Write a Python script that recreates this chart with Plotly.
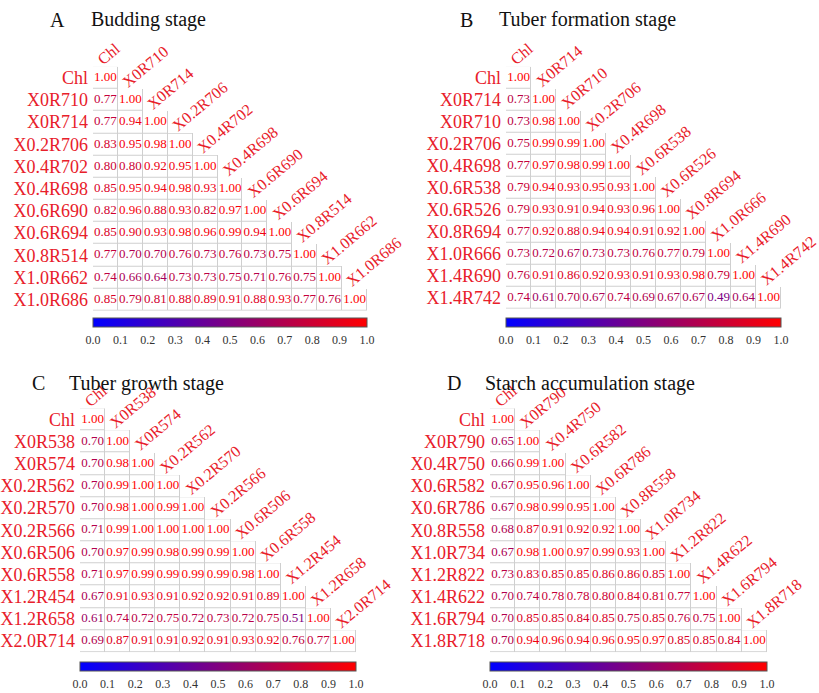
import plotly.graph_objects as go
from plotly.colors import sample_colorscale

# ---- Correlation data (lower triangle, row by row) ----
budding_vars = ["Chl", "X0R710", "X0R714", "X0.2R706", "X0.4R702", "X0.4R698",
                "X0.6R690", "X0.6R694", "X0.8R514", "X1.0R662", "X1.0R686"]
budding_r = [
    [1.00],
    [0.77, 1.00],
    [0.77, 0.94, 1.00],
    [0.83, 0.95, 0.98, 1.00],
    [0.80, 0.80, 0.92, 0.95, 1.00],
    [0.85, 0.95, 0.94, 0.98, 0.93, 1.00],
    [0.82, 0.96, 0.88, 0.93, 0.82, 0.97, 1.00],
    [0.85, 0.90, 0.93, 0.98, 0.96, 0.99, 0.94, 1.00],
    [0.77, 0.70, 0.70, 0.76, 0.73, 0.76, 0.73, 0.75, 1.00],
    [0.74, 0.66, 0.64, 0.73, 0.73, 0.75, 0.71, 0.76, 0.75, 1.00],
    [0.85, 0.79, 0.81, 0.88, 0.89, 0.91, 0.88, 0.93, 0.77, 0.76, 1.00],
]

formation_vars = ["Chl", "X0R714", "X0R710", "X0.2R706", "X0.4R698", "X0.6R538",
                  "X0.6R526", "X0.8R694", "X1.0R666", "X1.4R690", "X1.4R742"]
formation_r = [
    [1.00],
    [0.73, 1.00],
    [0.73, 0.98, 1.00],
    [0.75, 0.99, 0.99, 1.00],
    [0.77, 0.97, 0.98, 0.99, 1.00],
    [0.79, 0.94, 0.93, 0.95, 0.93, 1.00],
    [0.79, 0.93, 0.91, 0.94, 0.93, 0.96, 1.00],
    [0.77, 0.92, 0.88, 0.94, 0.94, 0.91, 0.92, 1.00],
    [0.73, 0.72, 0.67, 0.73, 0.73, 0.76, 0.77, 0.79, 1.00],
    [0.76, 0.91, 0.86, 0.92, 0.93, 0.91, 0.93, 0.98, 0.79, 1.00],
    [0.74, 0.61, 0.70, 0.67, 0.74, 0.69, 0.67, 0.67, 0.49, 0.64, 1.00],
]

growth_vars = ["Chl", "X0R538", "X0R574", "X0.2R562", "X0.2R570", "X0.2R566",
               "X0.6R506", "X0.6R558", "X1.2R454", "X1.2R658", "X2.0R714"]
growth_r = [
    [1.00],
    [0.70, 1.00],
    [0.70, 0.98, 1.00],
    [0.70, 0.99, 1.00, 1.00],
    [0.70, 0.98, 1.00, 0.99, 1.00],
    [0.71, 0.99, 1.00, 1.00, 1.00, 1.00],
    [0.70, 0.97, 0.99, 0.98, 0.99, 0.99, 1.00],
    [0.71, 0.97, 0.99, 0.99, 0.99, 0.99, 0.98, 1.00],
    [0.67, 0.91, 0.93, 0.91, 0.92, 0.92, 0.91, 0.89, 1.00],
    [0.61, 0.74, 0.72, 0.75, 0.72, 0.73, 0.72, 0.75, 0.51, 1.00],
    [0.69, 0.87, 0.91, 0.91, 0.92, 0.91, 0.93, 0.92, 0.76, 0.77, 1.00],
]

starch_vars = ["Chl", "X0R790", "X0.4R750", "X0.6R582", "X0.6R786", "X0.8R558",
               "X1.0R734", "X1.2R822", "X1.4R622", "X1.6R794", "X1.8R718"]
starch_r = [
    [1.00],
    [0.65, 1.00],
    [0.66, 0.99, 1.00],
    [0.67, 0.95, 0.96, 1.00],
    [0.67, 0.98, 0.99, 0.95, 1.00],
    [0.68, 0.87, 0.91, 0.92, 0.92, 1.00],
    [0.67, 0.98, 1.00, 0.97, 0.99, 0.93, 1.00],
    [0.73, 0.83, 0.85, 0.85, 0.86, 0.86, 0.85, 1.00],
    [0.70, 0.74, 0.78, 0.78, 0.80, 0.84, 0.81, 0.77, 1.00],
    [0.70, 0.85, 0.85, 0.84, 0.85, 0.75, 0.85, 0.76, 0.75, 1.00],
    [0.70, 0.94, 0.96, 0.94, 0.96, 0.95, 0.97, 0.85, 0.85, 0.84, 1.00],
]

panel_letters = ["A", "B", "C", "D"]
panel_titles = ["Budding stage", "Tuber formation stage",
                "Tuber growth stage", "Starch accumulation stage"]
panel_vars = [budding_vars, formation_vars, growth_vars, starch_vars]
panel_r = [budding_r, formation_r, growth_r, starch_r]

colorbar_ticks = [i / 10 for i in range(11)]

# ---- Styling / layout geometry (pixels) ----
W, H = 819, 693
SERIF = "Liberation Serif, Times New Roman, serif"
RED = "#e8202a"
GRID = "#cfcfcf"
COLORSCALE = [[0.0, "#0000ff"], [0.5, "#800080"], [1.0, "#ff0000"]]

# matrix box (x0, x1, y0, y1), colorbar top, heading row
geom = [
    dict(box=(93, 367, 67, 312), cbar_top=319, title_y=20, letter_x=48, title_x=89),
    dict(box=(506, 781, 67, 310), cbar_top=319, title_y=20, letter_x=458, title_x=497),
    dict(box=(80, 356, 410, 655), cbar_top=665, title_y=385, letter_x=30, title_x=67),
    dict(box=(490, 767, 410, 655), cbar_top=665, title_y=385, letter_x=445, title_x=483),
]


def fx(px):
    return px / W


def fy(py):
    return 1 - py / H


fig = go.Figure()
annotations = []
layout_axes = {}

for k in range(4):
    names = panel_vars[k]
    rows = panel_r[k]
    n = len(names)
    g = geom[k]
    x0, x1, y0, y1 = g["box"]
    xa = "x" if k == 0 else f"x{k + 1}"
    ya = "y" if k == 0 else f"y{k + 1}"

    mask = [[1 if j <= i else None for j in range(n)] for i in range(n)]
    idx = list(range(n))

    # grey underlay + white cells with gaps -> thin cell borders
    fig.add_trace(go.Heatmap(z=mask, x=idx, y=idx, xaxis=xa, yaxis=ya,
                             colorscale=[[0, GRID], [1, GRID]], showscale=False,
                             hoverinfo="skip"))
    fig.add_trace(go.Heatmap(z=mask, x=idx, y=idx, xaxis=xa, yaxis=ya,
                             colorscale=[[0, "white"], [1, "white"]], showscale=False,
                             xgap=1, ygap=1, hoverinfo="skip"))

    xs, ys, vals = [], [], []
    for i, row in enumerate(rows):
        for j, v in enumerate(row):
            xs.append(j)
            ys.append(i)
            vals.append(v)
    colors = sample_colorscale(COLORSCALE, vals)

    fig.add_trace(go.Scatter(
        x=xs, y=ys, xaxis=xa, yaxis=ya, mode="markers+text",
        text=[f"{v:.2f}" for v in vals],
        textposition="middle center",
        textfont=dict(family=SERIF, size=13, color=colors),
        marker=dict(size=1, opacity=0, color=vals, cmin=0, cmax=1,
                    colorscale=COLORSCALE, showscale=True,
                    colorbar=dict(orientation="h", lenmode="pixels", len=x1 - x0,
                                  thicknessmode="pixels", thickness=9,
                                  x=fx((x0 + x1) / 2), xanchor="center",
                                  y=fy(g["cbar_top"]), yanchor="top",
                                  xpad=0, ypad=0, outlinewidth=1, outlinecolor="#555",
                                  tickvals=colorbar_ticks,
                                  ticktext=[f"{t:.1f}" for t in colorbar_ticks],
                                  ticks="outside", ticklen=3, tickcolor="rgba(0,0,0,0)",
                                  tickfont=dict(family=SERIF, size=12, color="#333"))),
        hoverinfo="skip", showlegend=False))

    layout_axes["xaxis" if k == 0 else f"xaxis{k + 1}"] = dict(
        domain=[fx(x0), fx(x1)], range=[-0.5, n - 0.5], visible=False,
        anchor=ya, fixedrange=True)
    layout_axes["yaxis" if k == 0 else f"yaxis{k + 1}"] = dict(
        domain=[fy(y1), fy(y0)], range=[n - 0.5, -0.5], anchor=xa,
        tickvals=idx, ticktext=names, ticks="", showgrid=False, zeroline=False,
        showline=False, ticklabelstandoff=4,
        tickfont=dict(family=SERIF, size=18, color=RED),
        fixedrange=True)

    # rotated column labels above each diagonal cell
    for j, name in enumerate(names):
        annotations.append(dict(
            x=j - 0.5, y=j - 0.38, xref=xa, yref=ya, text=name, showarrow=False,
            textangle=-40, xanchor="left", yanchor="bottom", borderpad=0,
            font=dict(family=SERIF, size=16, color=RED)))

    # panel heading
    annotations.append(dict(x=fx(g["letter_x"]), y=fy(g["title_y"]), xref="paper",
                            yref="paper", text=panel_letters[k], showarrow=False,
                            xanchor="left", yanchor="middle",
                            font=dict(family=SERIF, size=20, color="#111")))
    annotations.append(dict(x=fx(g["title_x"]), y=fy(g["title_y"]), xref="paper",
                            yref="paper", text=panel_titles[k], showarrow=False,
                            xanchor="left", yanchor="middle",
                            font=dict(family=SERIF, size=20, color="#111")))

fig.update_layout(width=W, height=H, margin=dict(l=0, r=0, t=0, b=0),
                  paper_bgcolor="white", plot_bgcolor="white", showlegend=False,
                  annotations=annotations, **layout_axes)

fig.write_html("out.html")
